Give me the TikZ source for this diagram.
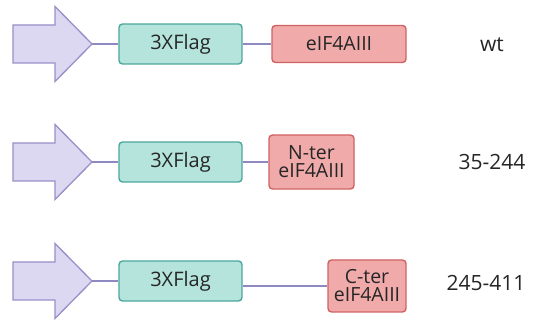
\documentclass[tikz,border=0pt]{standalone}
\usepackage{fontspec}
\setmainfont{Open Sans}
\definecolor{arrfill}{HTML}{DCD8F2}
\definecolor{arrdraw}{HTML}{9690C8}
\definecolor{flagfill}{HTML}{B4E4DC}
\definecolor{flagdraw}{HTML}{4CA89E}
\definecolor{redfill}{HTML}{F0AAAA}
\definecolor{reddraw}{HTML}{D06262}
\definecolor{linkcol}{HTML}{8F89C2}
\begin{document}
\begin{tikzpicture}[x=1pt,y=1pt,
  promoter/.style={fill=arrfill,draw=arrdraw,line width=1.3pt,line join=miter},
  flagbox/.style={rectangle,rounded corners=3.5pt,fill=flagfill,draw=flagdraw,line width=1.4pt,
    minimum width=123pt,minimum height=40pt,inner sep=0pt,font=\fontsize{20}{22}\selectfont,text=black!85},
  eifbox/.style={rectangle,rounded corners=3.5pt,fill=redfill,draw=reddraw,line width=1.4pt,
    inner sep=0pt,align=center,font=\fontsize{19.5}{20}\selectfont,text=black!85},
  link/.style={draw=linkcol,line width=1.3pt},
  lbl/.style={font=\fontsize{21}{23}\selectfont,text=black!85}]
\useasboundingbox (0,0) rectangle (535,320);
% rows at y_px = 44, 162, 281  -> tikz y = 276, 158, 39
\foreach \r/\c in {1/276,2/158,3/39}{
  \draw[promoter] (13,\c+19) -- (55,\c+19) -- (55,\c+37.5) -- (92,\c) -- (55,\c-37.5) -- (55,\c-19) -- (13,\c-19) -- cycle;
  \coordinate (tip\r) at (92,\c);
  \node[flagbox] (flag\r) at (180.5,\c) {3XFlag};
}
\node[eifbox,minimum width=134pt,minimum height=37pt] (eif1) at (339,276) {eIF4AIII};
\node[eifbox,minimum width=85pt,minimum height=54pt] (eif2) at (311.5,158) {N-ter\\[-2pt]eIF4AIII};
\node[eifbox,minimum width=78pt,minimum height=52pt] (eif3) at (367,34) {C-ter\\[-2pt]eIF4AIII};
\foreach \r in {1,2,3}{
  \draw[link] (tip\r) -- (flag\r.west);
  \draw[link] (flag\r.east |- eif\r.west) -- (eif\r.west);
}
\node[lbl] (wt) at (492,275) {wt};
\node[lbl] (n) at (492,158) {35-244};
\node[lbl] (c) at (486,37) {245-411};
\end{tikzpicture}
\end{document}
